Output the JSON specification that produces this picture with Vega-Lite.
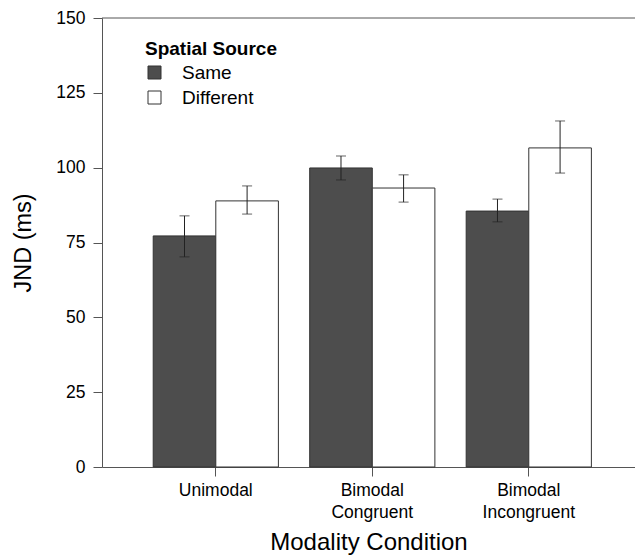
{
  "$schema": "https://vega.github.io/schema/vega-lite/v6.json",
  "width": 533,
  "height": 449,
  "autosize": "none",
  "padding": {"left": 102, "top": 18, "right": 0, "bottom": 90},
  "background": "white",
  "config": {
    "view": {"stroke": null},
    "font": "Liberation Sans"
  },
  "data": {
    "values": [
      {"condition": "Unimodal", "source": "Same", "jnd": 77.2, "lo": 70.2, "hi": 83.9},
      {"condition": "Unimodal", "source": "Different", "jnd": 88.9, "lo": 84.5, "hi": 93.9},
      {"condition": "Bimodal Congruent", "source": "Same", "jnd": 99.9, "lo": 95.9, "hi": 103.9},
      {"condition": "Bimodal Congruent", "source": "Different", "jnd": 93.2, "lo": 88.5, "hi": 97.6},
      {"condition": "Bimodal Incongruent", "source": "Same", "jnd": 85.5, "lo": 81.9, "hi": 89.5},
      {"condition": "Bimodal Incongruent", "source": "Different", "jnd": 106.6, "lo": 98.2, "hi": 115.6}
    ]
  },
  "encoding": {
    "x": {
      "field": "condition",
      "type": "nominal",
      "sort": ["Unimodal", "Bimodal Congruent", "Bimodal Incongruent"],
      "scale": {"paddingInner": 0.2, "paddingOuter": 0.303, "align": 0.54},
      "axis": {
        "title": "Modality Condition",
        "titleFontSize": 24,
        "titleFontWeight": "normal",
        "titleColor": "black",
        "titlePadding": 10,
        "labelAngle": 0,
        "labelFontSize": 17.5,
        "labelColor": "black",
        "labelPadding": 5,
        "labelLineHeight": 22,
        "labelExpr": "split(datum.label, ' ')",
        "domainColor": "#555",
        "tickColor": "#555",
        "tickSize": 9,
        "tickBand": "center"
      }
    },
    "xOffset": {"field": "source", "type": "nominal", "sort": ["Same", "Different"]}
  },
  "layer": [
    {
      "mark": {"type": "bar", "stroke": "#333", "strokeWidth": 1},
      "encoding": {
        "y": {
          "field": "jnd",
          "type": "quantitative",
          "scale": {"domain": [0, 150], "nice": false, "zero": true},
          "axis": {
            "title": "JND (ms)",
            "titleFontSize": 23.5,
            "titleFontWeight": "normal",
            "titleColor": "black",
            "titlePadding": 20,
            "values": [0, 25, 50, 75, 100, 125, 150],
            "grid": false,
            "labelFontSize": 17.5,
            "labelColor": "black",
            "labelPadding": 8,
            "domainColor": "#555",
            "tickColor": "#555",
            "tickSize": 9
          }
        },
        "fill": {
          "field": "source",
          "type": "nominal",
          "sort": ["Same", "Different"],
          "scale": {"domain": ["Same", "Different"], "range": ["#4d4d4d", "#ffffff"]},
          "legend": {
            "title": "Spatial Source",
            "orient": "none",
            "legendX": 43,
            "legendY": 22,
            "titleFontSize": 19,
            "titleFontWeight": "bold",
            "titleColor": "black",
            "titlePadding": 4,
            "labelFontSize": 19,
            "labelColor": "black",
            "labelOffset": 18,
            "symbolType": "square",
            "symbolSize": 169,
            "symbolStrokeColor": "#333",
            "symbolStrokeWidth": 1,
            "rowPadding": 5
          }
        }
      }
    },
    {
      "mark": {"type": "rule", "color": "#222", "strokeWidth": 1},
      "encoding": {
        "y": {"field": "lo", "type": "quantitative"},
        "y2": {"field": "hi"}
      }
    },
    {
      "mark": {"type": "tick", "color": "#222", "size": 10, "thickness": 1},
      "encoding": {"y": {"field": "lo", "type": "quantitative"}}
    },
    {
      "mark": {"type": "tick", "color": "#222", "size": 10, "thickness": 1},
      "encoding": {"y": {"field": "hi", "type": "quantitative"}}
    },
    {
      "data": {"values": [{"top": 150}]},
      "mark": {"type": "rule", "color": "#555", "strokeWidth": 1},
      "encoding": {"y": {"field": "top", "type": "quantitative"}, "x": null, "xOffset": null}
    }
  ]
}
